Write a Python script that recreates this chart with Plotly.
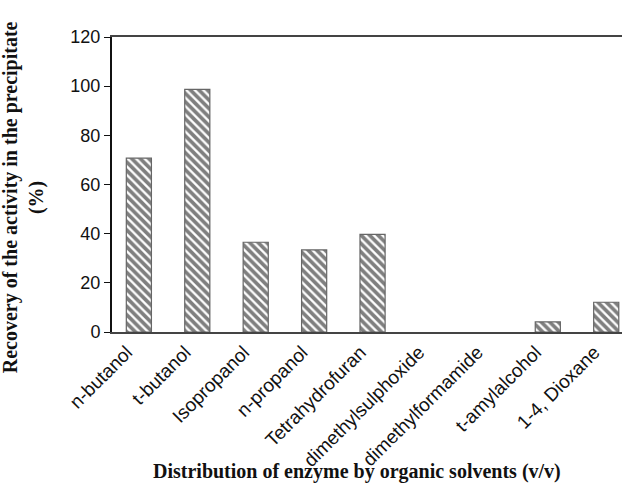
import plotly.graph_objects as go

categories = ["n-butanol", "t-butanol", "Isopropanol", "n-propanol", "Tetrahydrofuran",
              "dimethylsulphoxide", "dimethylformamide", "t-amylalcohol", "1-4, Dioxane"]
recovery = [70.7, 98.7, 36.5, 33.4, 39.7, 0, 0, 4.1, 12.1]
y_ticks = [0, 20, 40, 60, 80, 100, 120]
x_title = "Distribution of enzyme by organic solvents (v/v)"
y_title = "Recovery of the activity in the precipitate<br>(%)"

fig = go.Figure(go.Bar(
    x=list(range(len(categories))), y=recovery, width=0.43,
    marker=dict(color="white",
                line=dict(color="#666", width=[1.2 if v > 0 else 0 for v in recovery]),
                pattern=dict(shape="\\", fgcolor="#000", bgcolor="white", size=6, solidity=0.62)),
))
fig.update_layout(
    width=624, height=493, margin=dict(l=112, r=2, t=37, b=161, autoexpand=False),
    plot_bgcolor="white", paper_bgcolor="white", showlegend=False,
    font=dict(family="Liberation Sans", color="#111"),
    annotations=[
        dict(text=f"<b>{x_title}</b>", xref="paper", yref="paper", x=0.480, y=-0.472,
             xanchor="center", yanchor="middle", showarrow=False,
             font=dict(family="Liberation Serif", size=20, color="#111")),
        dict(text=f"<b>{y_title}</b>", xref="paper", yref="paper", x=-0.174, y=0.4576,
             xanchor="center", yanchor="middle", showarrow=False, textangle=-90,
             font=dict(family="Liberation Serif", size=20, color="#111")),
    ],
)
fig.update_xaxes(
    tickmode="array", tickvals=list(range(len(categories))), ticktext=categories,
    tickangle=-45, tickfont=dict(size=19, family="Liberation Sans"), automargin=False,
    ticklabelshift=-12,
    range=[-0.46, 8.27], showline=True, linecolor="#444", linewidth=1.5, mirror=True,
    ticks="", showgrid=False,
)
fig.update_yaxes(
    range=[0, 120], tickvals=y_ticks, tickfont=dict(size=18, family="Liberation Sans"),
    automargin=False,
    showline=True, linecolor="#111", linewidth=2, ticks="outside", ticklen=6, tickcolor="#111",
    showgrid=False, zeroline=False,
)
fig.write_html("out.html", config={"displayModeBar": False},
               post_script="document.body.style.margin='0';document.body.style.padding='0';")
